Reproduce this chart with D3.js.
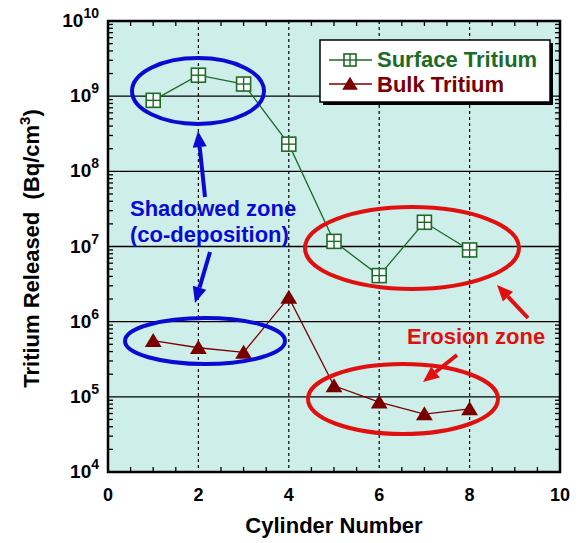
<!DOCTYPE html>
<html>
<head>
<meta charset="utf-8">
<script src="https://cdn.jsdelivr.net/npm/d3@7"></script>
<style>
  body { margin: 0; background: #fff; }
  svg { display: block; font-family: Arial, "Liberation Sans", sans-serif; }
</style>
</head>
<body>
<svg id="chart" width="581" height="543"></svg>
<script>
// Chart data
const cylinders = [1, 2, 3, 4, 5, 6, 7, 8];
const surfaceTritium = [8.8e8, 1.9e9, 1.45e9, 2.3e8, 1.17e7, 4.1e6, 2.1e7, 9.0e6];
const bulkTritium = [5.6e5, 4.5e5, 3.9e5, 2.1e6, 1.4e5, 8.5e4, 5.9e4, 6.9e4];
const xTicks = [0, 2, 4, 6, 8, 10];
const yDecades = [4, 5, 6, 7, 8, 9, 10];
const seriesNames = ['Surface Tritium', 'Bulk Tritium'];

const width = 581, height = 543;
const margin = { top: 21, right: 21, bottom: 71, left: 108 };
const svg = d3.select('#chart');

const x = d3.scaleLinear().domain([0, 10]).range([margin.left, width - margin.right]);
const y = d3.scaleLog().domain([1e4, 1e10]).range([height - margin.bottom, margin.top]);

const green = '#1c6b26';
const darkRed = '#7a0000';

// Plot background
svg.append('rect')
    .attr('x', x(0)).attr('y', y(1e10))
    .attr('width', x(10) - x(0)).attr('height', y(1e4) - y(1e10))
    .attr('fill', '#cdeee9');

// Horizontal decade grid lines (solid)
svg.append('g').selectAll('line').data(yDecades.slice(1, -1)).join('line')
    .attr('x1', x(0)).attr('x2', x(10))
    .attr('y1', d => y(Math.pow(10, d))).attr('y2', d => y(Math.pow(10, d)))
    .attr('stroke', '#000').attr('stroke-width', 1.3);

// Vertical dotted grid lines
svg.append('g').selectAll('line').data(xTicks.slice(1, -1)).join('line')
    .attr('x1', d => x(d)).attr('x2', d => x(d))
    .attr('y1', y(1e10)).attr('y2', y(1e4))
    .attr('stroke', '#000').attr('stroke-width', 1.2)
    .attr('stroke-dasharray', '3,3');

// Minor ticks: log on left/right, 0.5 steps on top/bottom
const minorY = [];
for (let e = 4; e < 10; e++) for (let m = 2; m <= 9; m++) minorY.push(m * Math.pow(10, e));
const minorX = d3.range(0.5, 10, 0.5).filter(d => d % 2 !== 0);

const ticks = svg.append('g').attr('stroke', '#000').attr('stroke-width', 1.3);
ticks.selectAll('.yl').data(minorY).join('line')
    .attr('x1', x(0)).attr('x2', x(0) + 5)
    .attr('y1', d => y(d)).attr('y2', d => y(d));
ticks.selectAll('.yr').data(minorY).join('line')
    .attr('x1', x(10)).attr('x2', x(10) - 5)
    .attr('y1', d => y(d)).attr('y2', d => y(d));
ticks.selectAll('.xb').data(minorX).join('line')
    .attr('x1', d => x(d)).attr('x2', d => x(d))
    .attr('y1', y(1e4)).attr('y2', y(1e4) - 5);
ticks.selectAll('.xt').data(minorX).join('line')
    .attr('x1', d => x(d)).attr('x2', d => x(d))
    .attr('y1', y(1e10)).attr('y2', y(1e10) + 5);

// Frame
svg.append('rect')
    .attr('x', x(0)).attr('y', y(1e10))
    .attr('width', x(10) - x(0)).attr('height', y(1e4) - y(1e10))
    .attr('fill', 'none').attr('stroke', '#000').attr('stroke-width', 2.5);

// X tick labels
svg.append('g').selectAll('text').data(xTicks).join('text')
    .attr('x', d => x(d)).attr('y', y(1e4) + 29)
    .attr('text-anchor', 'middle')
    .attr('font-size', 18).attr('font-weight', 'bold')
    .text(d => d);

// Y tick labels 10^n
const yLab = svg.append('g').selectAll('text').data(yDecades).join('text')
    .attr('x', x(0) - 9).attr('y', d => y(Math.pow(10, d)) + 6)
    .attr('text-anchor', 'end')
    .attr('font-size', 19).attr('font-weight', 'bold');
yLab.append('tspan').text('10');
yLab.append('tspan').attr('dy', -9).attr('font-size', 14).text(d => d);

// Axis titles
svg.append('text')
    .attr('x', (x(0) + x(10)) / 2).attr('y', 533)
    .attr('text-anchor', 'middle')
    .attr('font-size', 22).attr('font-weight', 'bold')
    .text('Cylinder Number');

const yTitle = svg.append('text')
    .attr('transform', `translate(39, ${(y(1e4) + y(1e10)) / 2 + 2}) rotate(-90)`)
    .attr('text-anchor', 'middle')
    .attr('font-size', 22).attr('font-weight', 'bold')
    .attr('xml:space', 'preserve');
yTitle.append('tspan').text('Tritium Released  (Bq/cm');
yTitle.append('tspan').attr('dy', -9).attr('font-size', 15).text('3');
yTitle.append('tspan').attr('dy', 9).text(')');

// Series lines
const line = d3.line().x(d => x(d[0])).y(d => y(d[1]));
const surfaceData = cylinders.map((c, i) => [c, surfaceTritium[i]]);
const bulkData = cylinders.map((c, i) => [c, bulkTritium[i]]);

svg.append('path').datum(surfaceData).attr('d', line)
    .attr('fill', 'none').attr('stroke', green).attr('stroke-width', 1.3);
svg.append('path').datum(bulkData).attr('d', line)
    .attr('fill', 'none').attr('stroke', darkRed).attr('stroke-width', 1.3);

// Markers
function squareMarker(g, cx, cy, s) {
    const h = s / 2;
    g.append('rect').attr('x', cx - h).attr('y', cy - h).attr('width', s).attr('height', s)
        .attr('fill', '#fff').attr('stroke', green).attr('stroke-width', 1.6);
    g.append('line').attr('x1', cx).attr('x2', cx).attr('y1', cy - h).attr('y2', cy + h)
        .attr('stroke', green).attr('stroke-width', 1.4);
    g.append('line').attr('x1', cx - h).attr('x2', cx + h).attr('y1', cy).attr('y2', cy)
        .attr('stroke', green).attr('stroke-width', 1.4);
}
function triMarker(g, cx, cy, s) {
    g.append('path')
        .attr('d', `M${cx},${cy - s * 0.55}L${cx + s * 0.6},${cy + s * 0.45}L${cx - s * 0.6},${cy + s * 0.45}Z`)
        .attr('fill', darkRed);
}
const markers = svg.append('g');
surfaceData.forEach(d => squareMarker(markers, x(d[0]), y(d[1]), 14));
bulkData.forEach(d => triMarker(markers, x(d[0]), y(d[1]), 14));

// Legend
const lg = svg.append('g');
lg.append('rect').attr('x', 323).attr('y', 43).attr('width', 230).attr('height', 62).attr('fill', '#000');
lg.append('rect').attr('x', 320).attr('y', 40).attr('width', 230).attr('height', 62)
    .attr('fill', '#fff').attr('stroke', '#000').attr('stroke-width', 1.5);
lg.append('line').attr('x1', 329).attr('x2', 372).attr('y1', 60).attr('y2', 60)
    .attr('stroke', green).attr('stroke-width', 1.3);
squareMarker(lg, 350, 60, 12);
lg.append('line').attr('x1', 329).attr('x2', 372).attr('y1', 84).attr('y2', 84)
    .attr('stroke', darkRed).attr('stroke-width', 1.3);
triMarker(lg, 350, 84, 13);
lg.append('text').attr('x', 377).attr('y', 67).attr('font-size', 22).attr('font-weight', 'bold')
    .attr('fill', green).text(seriesNames[0]);
lg.append('text').attr('x', 377).attr('y', 92).attr('font-size', 22).attr('font-weight', 'bold')
    .attr('fill', darkRed).text(seriesNames[1]);

// Annotations
const blue = '#0a0ad2';
const red = '#e01010';
const ann = svg.append('g').attr('fill', 'none').attr('stroke-width', 4);
ann.append('ellipse').attr('cx', 198).attr('cy', 91).attr('rx', 66).attr('ry', 33).attr('stroke', blue);
ann.append('ellipse').attr('cx', 205).attr('cy', 341).attr('rx', 80).attr('ry', 23).attr('stroke', blue);
ann.append('ellipse').attr('cx', 412).attr('cy', 248).attr('rx', 107).attr('ry', 41).attr('stroke', red);
ann.append('ellipse').attr('cx', 403).attr('cy', 399).attr('rx', 95).attr('ry', 35).attr('stroke', red);

function arrow(x1, y1, x2, y2, color) {
    const ang = Math.atan2(y2 - y1, x2 - x1);
    const len = 16, wid = 7;
    const bx = x2 - len * Math.cos(ang), by = y2 - len * Math.sin(ang);
    svg.append('line').attr('x1', x1).attr('y1', y1).attr('x2', bx).attr('y2', by)
        .attr('stroke', color).attr('stroke-width', 4);
    svg.append('path')
        .attr('d', `M${x2},${y2}L${bx + wid * Math.sin(ang)},${by - wid * Math.cos(ang)}L${bx - wid * Math.sin(ang)},${by + wid * Math.cos(ang)}Z`)
        .attr('fill', color);
}
arrow(205, 197, 198, 131, blue);
arrow(210, 252, 195, 303, blue);
arrow(528, 318, 497, 285, red);
arrow(457, 355, 423, 382, red);

svg.append('text').attr('x', 130).attr('y', 216).attr('font-size', 22).attr('font-weight', 'bold')
    .attr('fill', blue).text('Shadowed zone');
svg.append('text').attr('x', 130).attr('y', 242).attr('font-size', 22).attr('font-weight', 'bold')
    .attr('fill', blue).text('(co-deposition)');
svg.append('text').attr('x', 407).attr('y', 344).attr('font-size', 22).attr('font-weight', 'bold')
    .attr('fill', red).text('Erosion zone');
</script>
</body>
</html>
